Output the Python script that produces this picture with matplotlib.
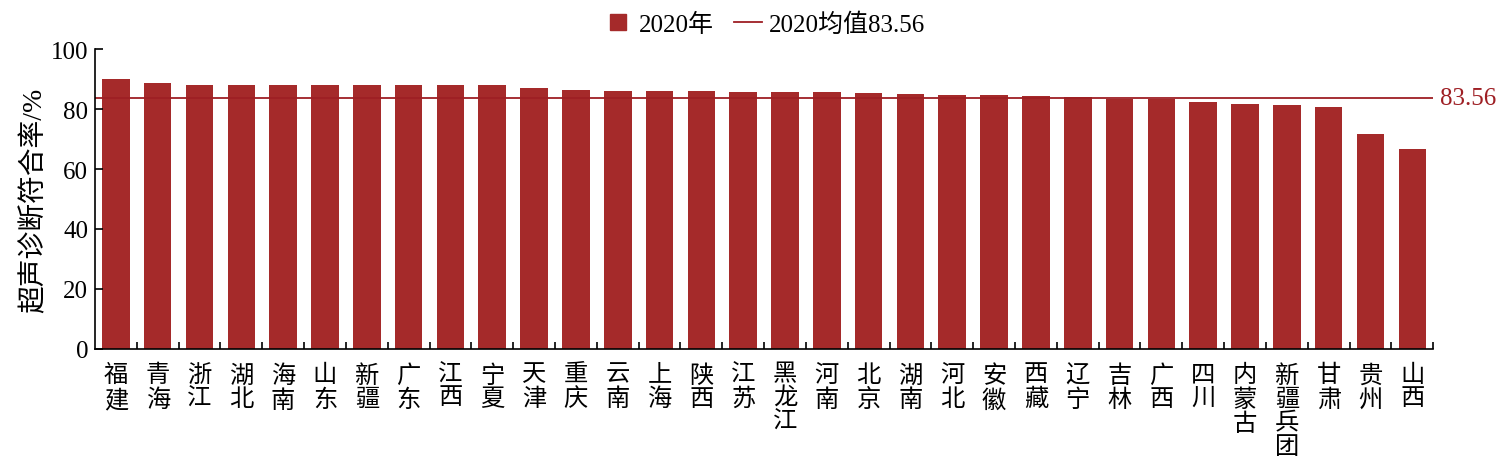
import matplotlib
matplotlib.use('Agg')
import matplotlib.pyplot as plt
from matplotlib.lines import Line2D

plt.rcParams['font.family'] = ['Liberation Serif', 'Noto Sans CJK SC', 'DejaVu Sans']

provinces = ['福建', '青海', '浙江', '湖北', '海南', '山东', '新疆', '广东', '江西', '宁夏',
             '天津', '重庆', '云南', '上海', '陕西', '江苏', '黑龙江', '河南', '北京', '湖南',
             '河北', '安徽', '西藏', '辽宁', '吉林', '广西', '四川', '内蒙古', '新疆兵团', '甘肃',
             '贵州', '山西']
rates = [90.0, 88.8, 87.9, 87.9, 87.9, 87.9, 87.9, 87.9, 87.9, 87.9,
         86.9, 86.3, 86.0, 86.0, 86.0, 85.7, 85.7, 85.7, 85.3, 85.0,
         84.7, 84.7, 84.3, 84.0, 83.3, 83.3, 82.3, 81.7, 81.3, 80.7,
         71.7, 66.7]
mean_2020 = 83.56

bar_color = '#A52A2A'
line_color = '#9E1F24'

fig = plt.figure(figsize=(15, 4.64), dpi=100)
ax = fig.add_axes([0.0633, 0.246, 0.8922, 0.646])

x = list(range(len(provinces)))
ax.bar(x, rates, width=0.66, color=bar_color)
ax.axhline(mean_2020, color=line_color, lw=1.3)
ax.text(len(provinces) - 0.5 + 0.15, mean_2020, f'{mean_2020:.2f}', color=line_color,
        fontsize=18, va='center', ha='left')

ax.set_xlim(-0.5, len(provinces) - 0.5)
ax.set_ylim(0, 100)
ax.set_yticks(range(0, 101, 20))
ax.tick_params(axis='y', direction='in', length=6, labelsize=18, width=1.2, pad=5)
ax.set_xticks(x)
ax.set_xticks([i + 0.5 for i in x], minor=True)
ax.tick_params(axis='x', which='major', length=0, pad=11)
ax.tick_params(axis='x', which='minor', direction='in', length=5, width=1.2)
ax.set_xticklabels(['\n'.join(p) for p in provinces], fontsize=17.5, linespacing=1.12, va='top')
for s in ['top', 'right']:
    ax.spines[s].set_visible(False)
for s in ['left', 'bottom']:
    ax.spines[s].set_linewidth(1.2)
ax.set_ylabel('超声诊断符合率/%', fontsize=20, labelpad=2)

handles = [Line2D([], [], marker='s', ls='', markersize=12, color=bar_color),
           Line2D([], [], color=line_color, lw=1.3)]
fig.legend(handles, ['2020年', '2020均值83.56'], loc='upper center',
           bbox_to_anchor=(0.51, 1.02), ncol=2, frameon=False, fontsize=18,
           handlelength=1.1, columnspacing=0.8, handletextpad=0.3)

fig.savefig('out.png', dpi=100)
